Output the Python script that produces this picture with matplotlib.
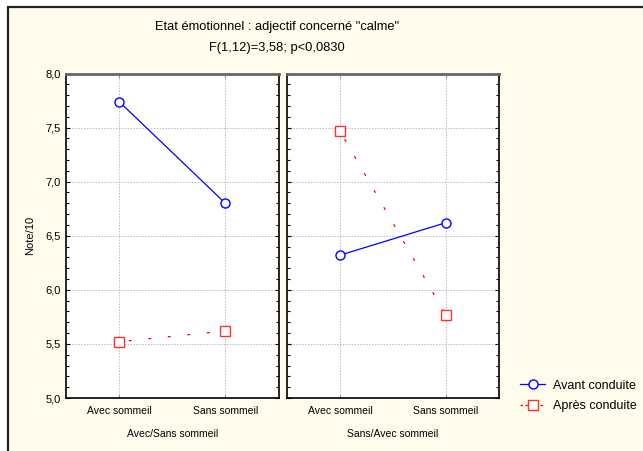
import matplotlib
matplotlib.use("Agg")
import matplotlib.pyplot as plt
from matplotlib.patches import Rectangle
from matplotlib.lines import Line2D
from matplotlib.ticker import MultipleLocator, FuncFormatter

plt.rcParams['font.family'] = ['Liberation Sans', 'DejaVu Sans']

title = 'Etat émotionnel : adjectif concerné "calme"'
subtitle = 'F(1,12)=3,58; p<0,0830'
categories = ['Avec sommeil', 'Sans sommeil']
panel_labels = ['Avec/Sans sommeil', 'Sans/Avec sommeil']
series_names = ['Avant conduite', 'Après conduite']

# panel 1
avant_1 = [7.74, 6.80]
apres_1 = [5.52, 5.62]
# panel 2
avant_2 = [6.32, 6.62]
apres_2 = [7.47, 5.77]

W, H = 643, 451
fig = plt.figure(figsize=(W / 100, H / 100), dpi=100)
fig.patch.set_facecolor('white')

cream = '#FFFCEE'
frame = Rectangle((8 / W, -0.1), 1.2, 1 - 7 / H + 0.1, transform=fig.transFigure,
                  facecolor=cream, edgecolor='#222222', linewidth=1.6, zorder=-10)
fig.add_artist(frame)

def px_axes(x0, x1, y0, y1):
    return fig.add_axes([x0 / W, 1 - y1 / H, (x1 - x0) / W, (y1 - y0) / H])

axes = [px_axes(66, 278.5, 73.5, 398), px_axes(287, 498.5, 73.5, 398)]
data = [(avant_1, apres_1), (avant_2, apres_2)]
xs = [0, 1]

for ax, (av, ap), plab in zip(axes, data, panel_labels):
    ax.set_facecolor('white')
    ax.set_xlim(-0.5, 1.5)
    ax.set_ylim(5.0, 8.0)
    ax.grid(True, color='#bbbbbb', linestyle=(0, (1.5, 1.5)), linewidth=0.7)
    ax.set_axisbelow(True)
    ax.plot(xs, av, color='#0000ff', linewidth=0.9, marker='o', markersize=6.5,
            markerfacecolor='white', markeredgecolor='#0000ff', markeredgewidth=1.0, zorder=3)
    ax.plot(xs, ap, color='#ff0000', linewidth=0.9, linestyle=(8, (2.4, 13.3)), marker='s', markersize=6.5,
            markerfacecolor='white', markeredgecolor='#ff3030', markeredgewidth=1.0, zorder=3)
    ax.set_xticks(xs)
    ax.set_xticklabels(categories, fontsize=7.5)
    ax.set_xlabel(plab, fontsize=7.5, labelpad=9)
    ax.yaxis.set_major_locator(MultipleLocator(0.5))
    ax.yaxis.set_minor_locator(MultipleLocator(0.1))
    ax.tick_params(axis='x', which='both', length=3, direction='in', top=True, color='#999999', pad=6)
    ax.tick_params(axis='y', which='major', length=3, direction='in', right=True, width=0.8)
    ax.tick_params(axis='y', which='minor', length=2, direction='in', right=True, width=0.8)
    for s in ['left', 'right', 'bottom']:
        ax.spines[s].set_color('black')
        ax.spines[s].set_linewidth(1.2)
    ax.spines['top'].set_color('#666666')
    ax.spines['top'].set_linewidth(2.0)

axes[0].yaxis.set_major_formatter(FuncFormatter(lambda v, p: f'{v:.1f}'.replace('.', ',')))
axes[0].tick_params(axis='y', labelsize=8)
axes[0].set_ylabel('Note/10', fontsize=8, labelpad=8)
axes[1].tick_params(axis='y', which='both', labelleft=False)

fig.text(277 / W, 1 - 27 / H, title, ha='center', va='center', fontsize=9.3)
fig.text(277 / W, 1 - 47.5 / H, subtitle, ha='center', va='center', fontsize=9.3)

handles = [
    Line2D([], [], color='#0000ff', linewidth=0.9, marker='o', markersize=6.5,
           markerfacecolor='white', markeredgecolor='#0000ff'),
    Line2D([], [], color='#ff0000', linewidth=0.9, linestyle=(0, (2, 2)), marker='s', markersize=6.5,
           markerfacecolor='white', markeredgecolor='#ff3030'),
]
fig.legend(handles, series_names, loc='center left', bbox_to_anchor=(509 / W, 1 - 396 / H),
           frameon=False, fontsize=9, handlelength=2.0, handletextpad=0.6, labelspacing=0.7)

fig.savefig('out.png', dpi=100, facecolor=fig.get_facecolor())
